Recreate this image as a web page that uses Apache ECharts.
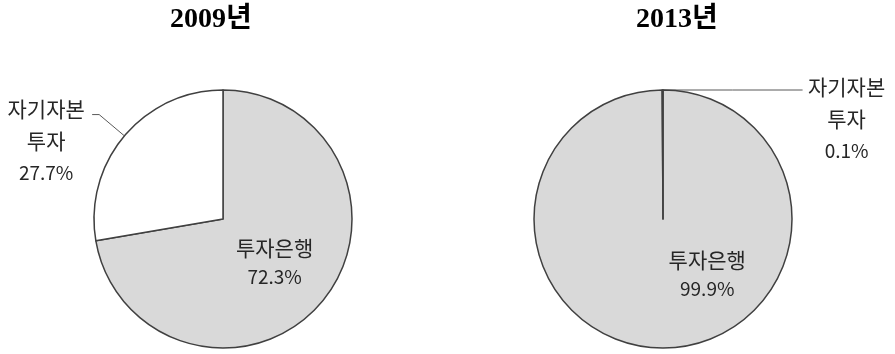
<!DOCTYPE html>
<html><head><meta charset="utf-8">
<script src="https://cdn.jsdelivr.net/npm/echarts@6/dist/echarts.min.js"></script>
<style>html,body{margin:0;padding:0;background:#fff}#c{width:895px;height:354px}</style>
</head><body><div id="c"></div>
<script>
const years = ['2009년', '2013년'];
const categories = ['투자은행', '자기자본\n투자'];
const values2009 = [72.3, 27.7];
const values2013 = [99.9, 0.1];

const fills = ['#d9d9d9', '#ffffff'];
const FONT = '"Noto Sans CJK KR", "Noto Sans", sans-serif';
const txt = { color: '#262626', fontFamily: FONT };

function makeData(vals) {
  return vals.map((v, i) => {
    const item = { name: categories[i], value: v, itemStyle: { color: fills[i] } };
    if (i === 0) {
      item.label = {
        position: 'inside',
        formatter: p => '{k|' + p.name + '}\n{n|' + p.value.toFixed(1) + '%}',
        rich: {
          k: Object.assign({ fontSize: 21, lineHeight: 28 }, txt),
          n: Object.assign({ fontSize: 19, lineHeight: 28 }, txt)
        }
      };
    } else {
      item.label = {
        position: 'outside',
        padding: [52, 0, 0, 0],
        formatter: p => p.name.split('\n').map(s => '{k|' + s + '}').join('\n') + '\n{n|' + p.value.toFixed(1) + '%}',
        rich: {
          k: Object.assign({ width: 82, align: 'center', lineHeight: 32, fontSize: 21 }, txt),
          n: Object.assign({ width: 82, align: 'center', lineHeight: 32, fontSize: 19 }, txt)
        }
      };
      item.labelLine = { show: true, length: 33, length2: 7, lineStyle: { color: '#595959', width: 1 } };
    }
    return item;
  });
}

const chart = echarts.init(document.getElementById('c'), null, { renderer: 'canvas' });
const titleStyle = { fontFamily: '"Liberation Serif", "Noto Sans CJK KR", serif', fontWeight: 'bold', fontSize: 28, color: '#000' };
chart.setOption({
  animation: false,
  title: [
    { text: years[0], left: 206, top: 1, textAlign: 'center', textStyle: titleStyle },
    { text: years[1], left: 672, top: 1, textAlign: 'center', textStyle: titleStyle }
  ],
  series: [
    {
      type: 'pie', center: [223, 219], radius: 129, startAngle: 90, clockwise: true,
      avoidLabelOverlap: false,
      itemStyle: { borderColor: '#404040', borderWidth: 1.5 },
      data: makeData(values2009)
    },
    {
      type: 'pie', center: [663, 219], radius: 129, startAngle: 90, clockwise: true,
      avoidLabelOverlap: false,
      itemStyle: { borderColor: '#404040', borderWidth: 1.5 },
      data: makeData(values2013),
      labelLayout: function (params) {
        if (params.dataIndex === 0) return { dx: 44, dy: -12 };
        const pts = params.labelLinePoints;
        if (!pts) return {};
        const s = pts[0];
        return {
          x: s[0] + 143, y: s[1] + 3, align: 'left', verticalAlign: 'middle',
          labelLinePoints: [[s[0], s[1]], [s[0] + 70, s[1]], [s[0] + 140, s[1]]]
        };
      }
    }
  ]
});
</script></body></html>
